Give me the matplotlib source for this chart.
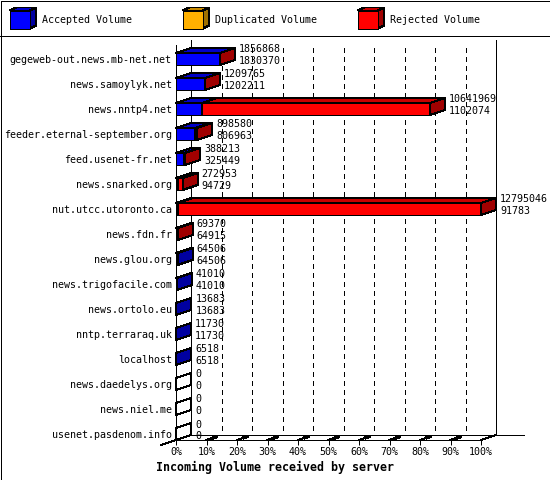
import matplotlib
matplotlib.use("Agg")
import matplotlib.pyplot as plt
from matplotlib.patches import Polygon, Rectangle
import numpy as np

plt.rcParams['lines.scale_dashes'] = False

# ---------------- data ----------------
servers = ["gegeweb-out.news.mb-net.net", "news.samoylyk.net", "news.nntp4.net",
           "feeder.eternal-september.org", "feed.usenet-fr.net", "news.snarked.org",
           "nut.utcc.utoronto.ca", "news.fdn.fr", "news.glou.org", "news.trigofacile.com",
           "news.ortolo.eu", "nntp.terraraq.uk", "localhost", "news.daedelys.org",
           "news.niel.me", "usenet.pasdenom.info"]
total_volume = [1856868, 1209765, 10641969, 898580, 388213, 272953, 12795046, 69370,
                64506, 41010, 13683, 11730, 6518, 0, 0, 0]
accepted_volume = [1830370, 1202211, 1102074, 806963, 325449, 94729, 91783, 64915,
                   64506, 41010, 13683, 11730, 6518, 0, 0, 0]
duplicated_volume = [0, 0, 0, 0, 0, 0, 0, 0, 0, 0, 0, 0, 0, 0, 0, 0]
rejected_volume = [26498, 7554, 9539895, 91617, 62764, 178224, 12703263, 4455,
                   0, 0, 0, 0, 0, 0, 0, 0]
series_names = ["Accepted Volume", "Duplicated Volume", "Rejected Volume"]
x_ticks = [0, 10, 20, 30, 40, 50, 60, 70, 80, 90, 100]
x_tick_labels = [f"{t}%" for t in x_ticks]
xlabel = "Incoming Volume received by server"

# ---------------- style ----------------
front_cols = ["#0000FF", "#FFB000", "#FF0000"]
top_cols = ["#0000C8", "#C88A00", "#C80000"]
side_cols = ["#0000A0", "#A07000", "#A00000"]
MONO = "DejaVu Sans Mono"
FS = 7.2
LW = 0.72  # 1 px

W, H = 550, 480
fig = plt.figure(figsize=(W / 100, H / 100), dpi=100)

# background frame (pixel coordinates, layout only)
bax = fig.add_axes([0, 0, 1, 1], zorder=-5)
bax.set_xlim(0, W)
bax.set_ylim(H, 0)
bax.axis("off")
bax.add_patch(Rectangle((0.5, 0.5), W - 1, H - 1, fill=False, lw=LW, ec="black",
                        antialiased=False))
bax.plot([0, W], [35.5, 35.5], color="black", lw=LW, antialiased=False)

# ---------------- main axes ----------------
# 0%..100% maps to px 176..481; row i centre at px 59+25*i
ax = fig.add_axes([176 / W, (H - 440) / H, 305 / W, 400 / H])
ax.set_xlim(0, 100)
y_bottom = 15.24
y_top = -0.76
ax.set_ylim(y_bottom, y_top)
ax.patch.set_visible(False)

px_x = 305 / 100.0       # pixels per percent
px_y = 25.0              # pixels per row
DX = 15 / px_x           # depth in x (data units)
DY = 5 / px_y            # depth in y (data units)
HB = 6 / px_y            # half bar thickness

vmax = max(total_volume)
series = [accepted_volume, duplicated_volume, rejected_volume]

for sp in ["top", "right"]:
    ax.spines[sp].set_visible(False)
ax.spines["left"].set_bounds(y_bottom, y_bottom - 395 / px_y)
ax.spines["left"].set_linewidth(LW)
ax.spines["bottom"].set_linewidth(LW)
ax.spines["left"].set_antialiased(False)
ax.spines["bottom"].set_antialiased(False)

ax.set_xticks(x_ticks)
ax.set_xticklabels(x_tick_labels, fontfamily=MONO, fontsize=FS)
ax.tick_params(axis="x", direction="out", length=3.6, width=LW, pad=1.5)
ax.set_yticks(range(len(servers)))
ax.set_yticklabels(servers, fontfamily=MONO, fontsize=FS)
ax.tick_params(axis="y", length=0, pad=3)

# back wall
back_floor = y_bottom - DY
ax.plot([DX, DX], [y_top, back_floor], color="black", lw=LW, clip_on=False,
        antialiased=False, zorder=1)
ax.plot([100 + DX, 100 + DX], [y_top, back_floor], color="black", lw=LW, clip_on=False,
        antialiased=False, zorder=1)
ax.plot([DX, 100 + DX + 28 / px_x], [back_floor, back_floor], color="black", lw=LW,
        clip_on=False, antialiased=False, zorder=1)
ax.plot([100, 100 + DX], [y_bottom, back_floor], color="black", lw=LW, clip_on=False,
        antialiased=False, zorder=1)
ax.plot([-DX, DX], [y_bottom + DY, back_floor], color="black", lw=LW, clip_on=False,
        antialiased=False, zorder=1)

# dashed grid on back wall
for t in x_ticks[1:-1]:
    ax.plot([t + DX, t + DX], [y_top + 8 / px_y, back_floor], color="black", lw=LW,
            dashes=(2.9, 2.9), clip_on=False, antialiased=False, zorder=1)
    # floor tick marks
    ax.plot([t, t + 7 / px_x], [y_bottom, y_bottom - 2.3 / px_y], color="black", lw=LW,
            clip_on=False, antialiased=False, zorder=2)
    ax.plot([t + 7 / px_x, t + 10 / px_x], [y_bottom - 2.3 / px_y, y_bottom - 3.3 / px_y],
            color="black", lw=1.6, clip_on=False, antialiased=False, zorder=2)

# bars
for i, name in enumerate(servers):
    c = i
    start = 0.0
    drawn = False
    for k, ser in enumerate(series):
        v = ser[i]
        if v <= 0:
            continue
        w = v / vmax * 100
        x0, x1 = start, start + w
        z = 3 + k
        ax.add_patch(Rectangle((x0, c - HB), w, 2 * HB, fc=front_cols[k], ec="black",
                               lw=LW, antialiased=False, clip_on=False, zorder=z))
        ax.add_patch(Polygon([(x0, c - HB), (x1, c - HB), (x1 + DX, c - HB - DY),
                              (x0 + DX, c - HB - DY)], closed=True, fc=top_cols[k],
                             ec="black", lw=LW, antialiased=False, clip_on=False, zorder=z))
        ax.add_patch(Polygon([(x1, c - HB), (x1 + DX, c - HB - DY), (x1 + DX, c + HB - DY),
                              (x1, c + HB)], closed=True, fc=side_cols[k], ec="black",
                             lw=LW, antialiased=False, clip_on=False, zorder=z))
        start = x1
        drawn = True
    if not drawn:
        ax.add_patch(Polygon([(0, c - HB), (DX, c - HB - DY), (DX, c + HB - DY),
                              (0, c + HB)], closed=True, fc="white", ec="black",
                             lw=LW, antialiased=False, clip_on=False, zorder=3))
    tx = total_volume[i] / vmax * 100 + DX + 4 / px_x
    ax.text(tx, c - 9.5 / px_y, str(total_volume[i]), fontfamily=MONO, fontsize=FS,
            ha="left", va="center", zorder=10, clip_on=False)
    ax.text(tx, c + 2 / px_y, str(accepted_volume[i]), fontfamily=MONO, fontsize=FS,
            ha="left", va="center", zorder=10, clip_on=False)

fig.text(0.5, 1 - 467 / H, xlabel, ha="center", va="center", fontfamily=MONO,
         fontsize=8.4, fontweight="bold")

# ---------------- legend (3D cubes) ----------------
lax = fig.add_axes([0, (H - 35) / H, 1, 35 / H])
lax.set_xlim(0, W)
lax.set_ylim(35, 0)
lax.axis("off")
leg_x = [10, 183, 358]
for k, nm in enumerate(series_names):
    x0 = leg_x[k]
    lax.add_patch(Polygon([(x0, 10.5), (x0 + 20, 10.5), (x0 + 26, 7.5), (x0 + 6, 7.5)],
                          closed=True, fc=top_cols[k], ec="black", lw=LW, antialiased=False))
    lax.add_patch(Polygon([(x0 + 20, 10.5), (x0 + 26, 7.5), (x0 + 26, 25.5), (x0 + 20, 28.5)],
                          closed=True, fc=side_cols[k], ec="black", lw=LW, antialiased=False))
    lax.add_patch(Rectangle((x0, 10.5), 20, 18, fc=front_cols[k], ec="black", lw=LW,
                            antialiased=False))
    lax.text(x0 + 32, 20, nm, fontfamily=MONO, fontsize=FS, ha="left", va="center")

fig.savefig("out.png", dpi=100)
